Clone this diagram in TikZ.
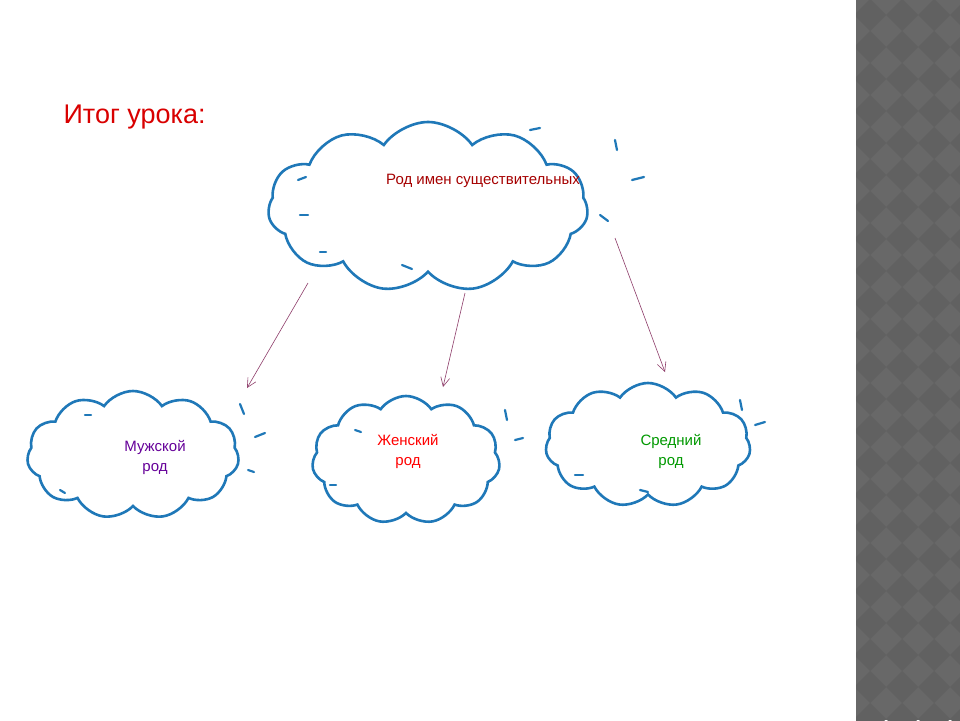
\documentclass[tikz,border=0pt]{standalone}
\usepackage{fontspec}
\setmainfont{Liberation Sans}
\usetikzlibrary{shapes.symbols,arrows.meta}
\definecolor{cblue}{HTML}{1F78B8}
\definecolor{arr}{HTML}{8E3D6A}
\tikzset{
 cl/.style={cloud, cloud puffs=11, cloud puff arc=110, aspect=1.8, draw=cblue, line width=2.6pt, fill=white, inner sep=0pt},
 dsh/.style={draw=cblue, line width=2.2pt, line cap=round},
 con/.style={draw=arr, line width=0.6pt, -{Straight Barb[length=9pt,width=9pt]}},
 t/.style={font=\fontsize{15}{20}\selectfont, align=center}
}
\begin{document}
\begin{tikzpicture}[x=1pt,y=-1pt]
\useasboundingbox (0,0) rectangle (960,720);
\fill[white] (0,0) rectangle (960,720);
% right strip
\fill[gray!75!black!95] (856,0) rectangle (960,720);
\begin{scope}
\clip (856,0) rectangle (960,720);
\foreach \i in {0,...,4} \foreach \j in {0,...,23} {
  \pgfmathsetmacro\cx{870+32*\i}\pgfmathsetmacro\cy{15+32*\j}
  \fill[black!62] (\cx-16,\cy) -- (\cx,\cy-16) -- (\cx+16,\cy) -- (\cx,\cy+16) -- cycle;
}
\end{scope}
\node[anchor=west, text=red!85!black, font=\fontsize{27}{32}\selectfont] (title) at (60,117) {Итог урока:};
% clouds
\node[cl, minimum width=320, minimum height=170] (top) at (428,207) {};
\node[cl, minimum width=212, minimum height=128] (m) at (133,455) {};
\node[cl, minimum width=188, minimum height=128] (f) at (406,460) {};
\node[cl, minimum width=205, minimum height=124] (n) at (648,445) {};
\node[t, text=red!65!black] (tt) at (483,181) {Род имен существительных};
\node[t, text=violet!80!blue] (mt) at (155,457) {Мужской\\род};
\node[t, text=red] (ft) at (408,451) {Женский\\род};
\node[t, text=green!60!black] (nt) at (671,451) {Средний\\род};
% arrows
\coordinate (a1) at (308,283); \coordinate (b1) at (247,388);
\coordinate (a2) at (465,293); \coordinate (b2) at (443,387);
\coordinate (a3) at (615,238); \coordinate (b3) at (665,372);
\draw[con] (a1) -- (b1);
\draw[con] (a2) -- (b2);
\draw[con] (a3) -- (b3);
% dashes
\foreach \x/\y/\dx/\dy in {530/130/10/-2, 615/140/2/10, 632/180/12/-3, 600/215/8/6, 300/215/8/0, 320/252/6/0, 402/265/10/4, 298/180/8/-3,
 240/404/4/10, 255/437/10/-4, 248/470/6/2, 60/490/5/3, 85/415/6/0, 505/410/2/10, 515/440/8/-2, 330/485/6/0, 355/430/6/2, 740/400/2/10, 755/425/10/-3, 575/475/8/0, 640/490/8/2} 
 \draw[dsh] (\x,\y) -- ++(\dx,\dy);
\end{tikzpicture}
\end{document}
